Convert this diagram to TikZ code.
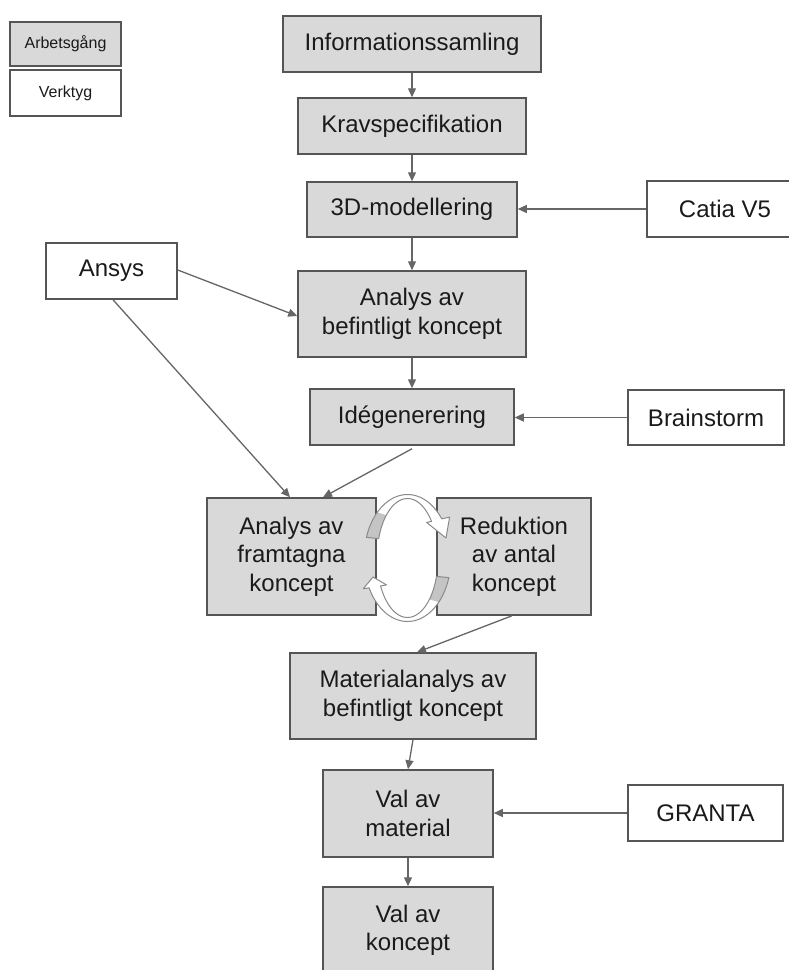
\documentclass[tikz,border=0pt]{standalone}
\usepackage{fontspec}
\setmainfont{Liberation Sans}
\usetikzlibrary{arrows.meta,calc}
\definecolor{boxgrey}{HTML}{D9D9D9}
\definecolor{edgegrey}{HTML}{555555}
\definecolor{linegrey}{HTML}{666666}
\definecolor{txt}{HTML}{1A1A1A}
\definecolor{ringgrey}{HTML}{C4C4C4}
\definecolor{ringline}{HTML}{8A8A8A}
\begin{document}
\begin{tikzpicture}[x=1pt,y=-1pt,
  box/.style={draw=edgegrey, line width=1.5pt, inner sep=0pt, align=center, text=txt,
              font=\fontsize{24}{28.5}\selectfont},
  work/.style={box, fill=boxgrey},
  tool/.style={box, fill=white},
  legendbox/.style={font=\fontsize{16}{19}\selectfont},
  conn/.style={draw=linegrey, line width=1.3pt, -{Triangle[length=9pt,width=8pt]}},
  ringfill/.style={fill=white},
  ringshade/.style={fill=ringgrey},
  ringedge/.style={draw=ringline, line width=1pt, line join=round}]
\fill[white] (0,0) rectangle (789,970);
\useasboundingbox (0,0) rectangle (789,970);
\clip (0,0) rectangle (789,970);

% legend
\node[work, legendbox, minimum width=111pt, minimum height=44pt] (legA) at (65.5,44) {Arbetsgång};
\node[tool, legendbox, minimum width=111pt, minimum height=46pt] (legV) at (65.5,93) {Verktyg};

% main flow
\node[work, minimum width=258pt, minimum height=56pt] (info) at (412,44) {Informationssamling};
\node[work, minimum width=228pt, minimum height=56pt] (krav) at (412,126) {Kravspecifikation};
\node[work, minimum width=210pt, minimum height=55pt] (mod) at (412,209.5) {3D-modellering};
\node[tool, minimum width=156pt, minimum height=56pt] (catia) at (725,209) {Catia V5};
\node[tool, minimum width=131pt, minimum height=56pt] (ansys) at (111.5,271) {Ansys};
\node[work, minimum width=228pt, minimum height=86pt] (abef) at (412,314) {Analys av\\befintligt koncept};
\node[work, minimum width=204pt, minimum height=56pt] (ide) at (412,417) {Idégenerering};
\node[tool, minimum width=156pt, minimum height=55pt] (brain) at (706,417.5) {Brainstorm};
\node[work, minimum width=169pt, minimum height=117pt] (afram) at (291.5,556.5) {Analys av\\framtagna\\koncept};
\node[work, minimum width=154pt, minimum height=117pt] (red) at (514,556.5) {Reduktion\\av antal\\koncept};
\node[work, minimum width=246pt, minimum height=86pt] (mat) at (413,696) {Materialanalys av\\befintligt koncept};
\node[work, minimum width=170pt, minimum height=87pt] (valmat) at (408,813.5) {Val av\\material};
\node[tool, minimum width=155pt, minimum height=56pt] (granta) at (705.5,813) {GRANTA};
\node[work, minimum width=170pt, minimum height=87pt] (valkon) at (408,930.5) {Val av\\koncept};

% circular arrows
% upper arrow (left -> over the top -> right)
\path[ringfill] plot[domain=199:322,samples=40,variable=\t] ({407.5+43.5*cos(\t)},{558+63.5*sin(\t)})
  -- (449.6,517.1) -- (446,538) -- (426.6,522.4)
  -- plot[domain=322:199,samples=40,variable=\t] ({407.5+30.5*cos(\t)},{558+59.5*sin(\t)}) -- cycle;
\path[ringshade] plot[domain=199:226,samples=15,variable=\t] ({407.5+43.5*cos(\t)},{558+63.5*sin(\t)})
  -- plot[domain=226:199,samples=15,variable=\t] ({407.5+30.5*cos(\t)},{558+59.5*sin(\t)}) -- cycle;
\path[ringedge] plot[domain=199:322,samples=40,variable=\t] ({407.5+43.5*cos(\t)},{558+63.5*sin(\t)})
  -- (449.6,517.1) -- (446,538) -- (426.6,522.4)
  -- plot[domain=322:199,samples=40,variable=\t] ({407.5+30.5*cos(\t)},{558+59.5*sin(\t)}) -- cycle;
% lower arrow (right -> under the bottom -> left)
\path[ringfill] plot[domain=18:152,samples=40,variable=\t] ({407.5+43.5*cos(\t)},{558+63.5*sin(\t)})
  -- (363.2,588.8) -- (373,577) -- (386.5,584.9)
  -- plot[domain=152:18,samples=40,variable=\t] ({407.5+30.5*cos(\t)},{558+59.5*sin(\t)}) -- cycle;
\path[ringshade] plot[domain=18:44,samples=15,variable=\t] ({407.5+43.5*cos(\t)},{558+63.5*sin(\t)})
  -- plot[domain=44:18,samples=15,variable=\t] ({407.5+30.5*cos(\t)},{558+59.5*sin(\t)}) -- cycle;
\path[ringedge] plot[domain=18:152,samples=40,variable=\t] ({407.5+43.5*cos(\t)},{558+63.5*sin(\t)})
  -- (363.2,588.8) -- (373,577) -- (386.5,584.9)
  -- plot[domain=152:18,samples=40,variable=\t] ({407.5+30.5*cos(\t)},{558+59.5*sin(\t)}) -- cycle;

% connectors
\draw[conn] (info) -- (krav);
\draw[conn] (krav) -- (mod);
\draw[conn] (mod) -- (abef);
\draw[conn] (abef) -- (ide);
\draw[conn] (catia.west) -- (catia.west -| mod.east);
\draw[conn] (brain.west) -- (brain.west -| ide.east);
\draw[conn] ([yshift=1pt]ansys.east) -- ([yshift=-2pt]abef.west);
\draw[conn] ([xshift=1.5pt]ansys.south) -- ([xshift=-1.5pt]afram.north);
\draw[conn] ([yshift=-3pt]ide.south) -- ([xshift=31.5pt]afram.north);
\draw[conn] ([xshift=-2pt]red.south) -- ([xshift=4pt]mat.north);
\draw[conn] (mat.south) -- (valmat.north);
\draw[conn] (valmat) -- (valkon);
\draw[conn] (granta.west) -- (granta.west -| valmat.east);
\end{tikzpicture}
\end{document}
